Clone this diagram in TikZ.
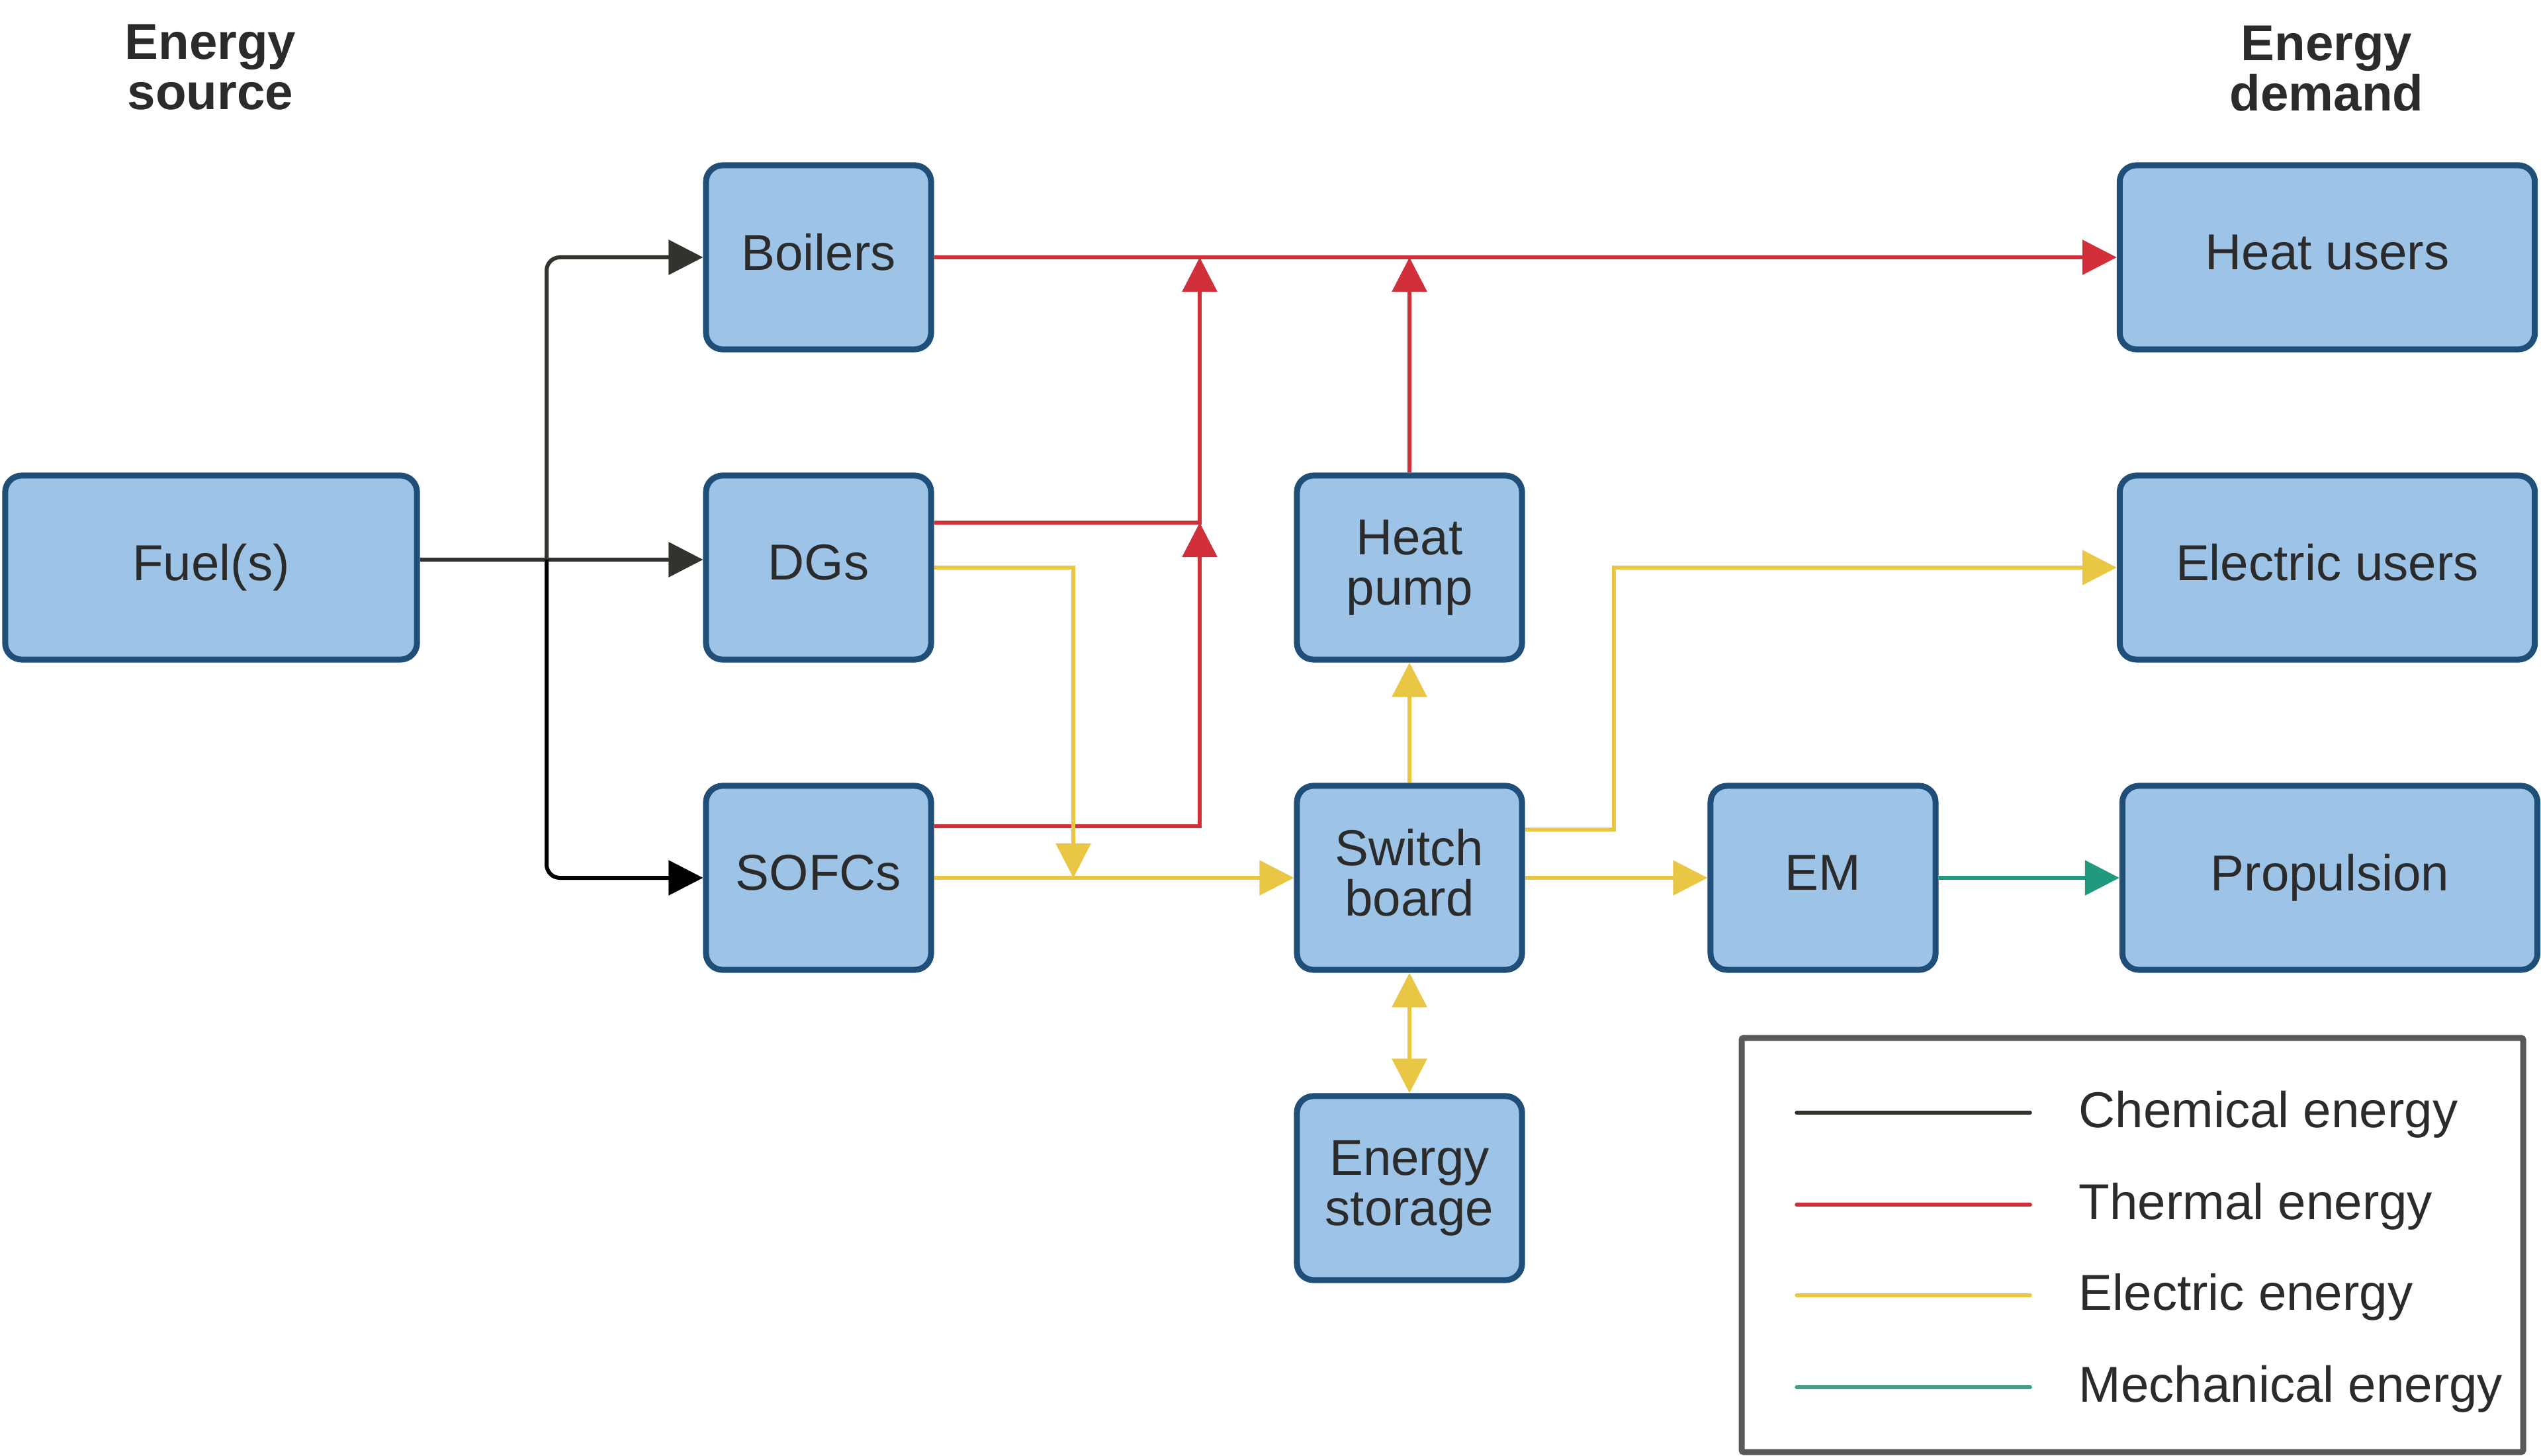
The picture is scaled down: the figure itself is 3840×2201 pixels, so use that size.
\documentclass[tikz,border=0pt]{standalone}
\usepackage{fontspec}
\setmainfont{Liberation Sans}
\usetikzlibrary{arrows.meta}
\definecolor{boxfill}{HTML}{9DC3E6}
\definecolor{boxdraw}{HTML}{1F4E79}
\definecolor{txt}{HTML}{2B2B2B}
\definecolor{chemc}{HTML}{33332E}
\definecolor{thermc}{HTML}{D1303B}
\definecolor{elecc}{HTML}{EAC645}
\definecolor{mechc}{HTML}{1F9A7F}
\definecolor{legmech}{HTML}{3FA08C}
\definecolor{legc}{HTML}{595959}
\newcommand{\dstr}{\vphantom{p}}
\begin{document}
\begin{tikzpicture}[x=0.01cm,y=-0.01cm,
  blk/.style={draw=boxdraw, fill=boxfill, line width=0.09cm, rounded corners=0.25cm,
    minimum height=2.78cm, text=txt, font=\fontsize{21.7}{21.5}\selectfont,
    align=center, inner sep=0pt},
  smallblk/.style={blk, minimum width=3.40cm},
  wideblk/.style={blk, minimum width=6.27cm},
  flow/.style={line width=0.06cm, -{Triangle[length=0.52cm,width=0.52cm]}},
  biflow/.style={line width=0.06cm, {Triangle[length=0.52cm,width=0.52cm]}-{Triangle[length=0.52cm,width=0.52cm]}},
  header/.style={font=\bfseries\fontsize{21.7}{21.6}\selectfont, align=center, text=txt, inner sep=0pt},
  legline/.style={line width=0.055cm, line cap=round},
  legtext/.style={anchor=base west, font=\fontsize{21.7}{21.5}\selectfont, text=txt, inner sep=0pt}
]
\useasboundingbox (0,0) rectangle (3840,2201);
\fill[white] (0,0) rectangle (3840,2201);

% headers
\node[header] (hsrc) at (318,102) {Energy\\source};
\node[header] (hdem) at (3516,104) {Energy\\demand};

% blocks
\node[wideblk, minimum width=6.22cm] (fuel) at (319,858) {Fuel(s)\dstr};
\node[smallblk] (boil) at (1237,389) {Boilers\dstr};
\node[smallblk] (dgs) at (1237,858) {DGs\dstr};
\node[smallblk] (sofc) at (1237,1327) {SOFCs\dstr};
\node[smallblk] (hp) at (2130,858) {Heat\\pump\dstr};
\node[smallblk] (sw) at (2130,1327) {Switch\\board\dstr};
\node[smallblk] (es) at (2130,1796) {Energy\\storage\dstr};
\node[smallblk] (em) at (2755,1327) {EM\dstr};
\node[wideblk] (hu) at (3517,389) {Heat users\dstr};
\node[wideblk] (eu) at (3517,858) {Electric users\dstr};
\node[wideblk] (pr) at (3521,1327) {Propulsion\dstr};

% helper coordinates
\coordinate (jn) at (826,846);
\coordinate (tx) at (1813,0);
\coordinate (ex) at (1622,0);
\coordinate (ex2) at (2439,0);
\coordinate (ydgs) at (0,790);
\coordinate (ysof) at (0,1249);
\coordinate (ysw) at (0,1254);

% chemical
\draw[flow, chemc] (fuel.east |- jn) -- (dgs.west |- jn);
\draw[flow, chemc, rounded corners=0.2cm] (jn) |- (boil.west);
\draw[flow, black, rounded corners=0.2cm] (jn) |- (sofc.west);

% thermal
\draw[flow, thermc] (boil.east) -- (hu.west);
\draw[flow, thermc] (dgs.east |- ydgs) -| (tx |- boil.east);
\draw[flow, thermc] (sofc.east |- ysof) -| (tx |- ydgs);
\draw[flow, thermc] (hp.north) -- (hp.north |- boil.east);

% electric
\draw[flow, elecc] (dgs.east) -| (ex |- sofc.east);
\draw[flow, elecc] (sofc.east) -- (sw.west);
\draw[flow, elecc] (sw.north) -- (hp.south);
\draw[flow, elecc] (sw.east |- ysw) -| (ex2 |- eu.west) -- (eu.west);
\draw[flow, elecc] (sw.east) -- (em.west);
\draw[biflow, elecc] (sw.south) -- (es.north);

% mechanical
\draw[flow, mechc] (em.east) -- (pr.west);

% legend
\draw[legc, line width=0.09cm, rounded corners=0.03cm] (2632,1569) rectangle (3813,2195);
\draw[legline, chemc] (2715,1682) -- (3068,1682);
\draw[legline, thermc] (2715,1821) -- (3068,1821);
\draw[legline, elecc] (2715,1958) -- (3068,1958);
\draw[legline, legmech] (2715,2097) -- (3068,2097);
\node[legtext] (l1) at (3141,1704) {Chemical energy};
\node[legtext] (l2) at (3141,1843) {Thermal energy};
\node[legtext] (l3) at (3141,1980) {Electric energy};
\node[legtext] (l4) at (3141,2119) {Mechanical energy};
\end{tikzpicture}
\end{document}
